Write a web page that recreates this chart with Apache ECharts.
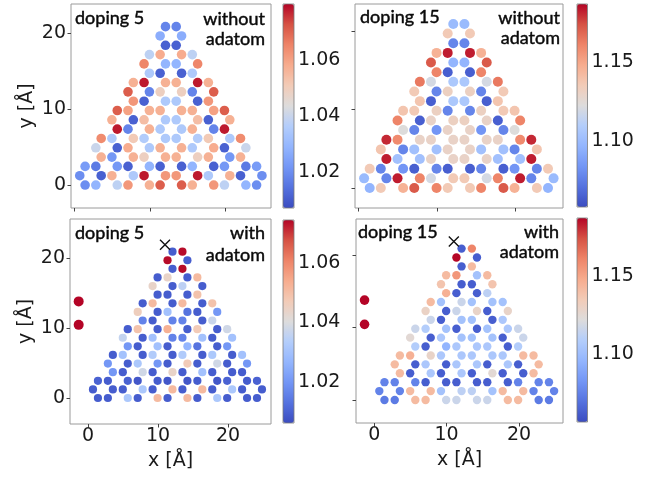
<!DOCTYPE html>
<html><head><meta charset="utf-8">
<script src="https://cdn.jsdelivr.net/npm/echarts@6/dist/echarts.min.js"></script>
<style>html,body{margin:0;padding:0;background:#fff}#c{width:650px;height:479px}</style>
</head><body><div id="c"></div>
<script>
// atom positions of the armchair triangular flake (Å), row by row from the bottom
const ATOM_X = [
 1.42,2.84,5.68,7.10,9.94,11.36,14.20,15.62,18.46,19.88,22.72,24.14,
 0.71,3.55,4.97,7.81,9.23,12.07,13.49,16.33,17.75,20.59,22.01,24.85,
 1.42,2.84,5.68,7.10,9.94,11.36,14.20,15.62,18.46,19.88,22.72,24.14,
 3.55,4.97,7.81,9.23,12.07,13.49,16.33,17.75,20.59,22.01,
 2.84,5.68,7.10,9.94,11.36,14.20,15.62,18.46,19.88,22.72,
 3.55,4.97,7.81,9.23,12.07,13.49,16.33,17.75,20.59,22.01,
 5.68,7.10,9.94,11.36,14.20,15.62,18.46,19.88,
 4.97,7.81,9.23,12.07,13.49,16.33,17.75,20.59,
 5.68,7.10,9.94,11.36,14.20,15.62,18.46,19.88,
 7.81,9.23,12.07,13.49,16.33,17.75,
 7.10,9.94,11.36,14.20,15.62,18.46,
 7.81,9.23,12.07,13.49,16.33,17.75,
 9.94,11.36,14.20,15.62,
 9.23,12.07,13.49,16.33,
 9.94,11.36,14.20,15.62,
 12.07,13.49,
 11.36,14.20,
 12.07,13.49];
const ATOM_Y = [
 0,0,0,0,0,0,0,0,0,0,0,0,
 1.23,1.23,1.23,1.23,1.23,1.23,1.23,1.23,1.23,1.23,1.23,1.23,
 2.46,2.46,2.46,2.46,2.46,2.46,2.46,2.46,2.46,2.46,2.46,2.46,
 3.69,3.69,3.69,3.69,3.69,3.69,3.69,3.69,3.69,3.69,
 4.92,4.92,4.92,4.92,4.92,4.92,4.92,4.92,4.92,4.92,
 6.15,6.15,6.15,6.15,6.15,6.15,6.15,6.15,6.15,6.15,
 7.38,7.38,7.38,7.38,7.38,7.38,7.38,7.38,
 8.61,8.61,8.61,8.61,8.61,8.61,8.61,8.61,
 9.84,9.84,9.84,9.84,9.84,9.84,9.84,9.84,
 11.07,11.07,11.07,11.07,11.07,11.07,
 12.30,12.30,12.30,12.30,12.30,12.30,
 13.53,13.53,13.53,13.53,13.53,13.53,
 14.76,14.76,14.76,14.76,
 15.99,15.99,15.99,15.99,
 17.22,17.22,17.22,17.22,
 18.45,18.45,
 19.68,19.68,
 20.91,20.91];

// doping 5, without adatom
const VAL_D5_NO = [
 1.020,1.029,1.038,1.062,1.057,1.071,1.071,1.057,1.062,1.038,1.029,1.020,
 1.020,1.011,1.057,1.035,1.078,1.062,1.062,1.078,1.035,1.057,1.011,1.020,
 1.023,1.016,1.022,1.011,1.029,1.011,1.011,1.029,1.011,1.022,1.016,1.023,
 1.057,1.022,1.057,1.049,1.057,1.057,1.049,1.057,1.022,1.057,
 1.040,1.011,1.058,1.035,1.057,1.057,1.035,1.058,1.011,1.040,
 1.064,1.035,1.051,1.036,1.035,1.035,1.036,1.051,1.035,1.064,
 1.078,1.018,1.057,1.035,1.035,1.057,1.018,1.078,
 1.057,1.011,1.054,1.035,1.035,1.054,1.011,1.057,
 1.071,1.060,1.057,1.057,1.057,1.057,1.060,1.071,
 1.062,1.011,1.035,1.035,1.011,1.062,
 1.071,1.018,1.049,1.049,1.018,1.071,
 1.057,1.078,1.057,1.057,1.078,1.057,
 1.035,1.011,1.011,1.035,
 1.065,1.029,1.029,1.065,
 1.038,1.058,1.058,1.038,
 1.011,1.011,
 1.027,1.027,
 1.018,1.018];
// doping 15, without adatom
const VAL_D15_NO = [
 1.097,1.136,1.146,1.172,1.161,1.136,1.136,1.161,1.172,1.146,1.136,1.097,
 1.100,1.078,1.183,1.161,1.120,1.136,1.136,1.120,1.161,1.183,1.078,1.100,
 1.136,1.078,1.084,1.065,1.078,1.065,1.065,1.078,1.065,1.084,1.078,1.136,
 1.183,1.103,1.103,1.130,1.130,1.130,1.130,1.103,1.103,1.183,
 1.138,1.078,1.103,1.103,1.130,1.130,1.103,1.103,1.078,1.138,
 1.181,1.159,1.130,1.130,1.130,1.130,1.130,1.130,1.159,1.181,
 1.123,1.078,1.084,1.130,1.130,1.084,1.078,1.123,
 1.161,1.065,1.130,1.132,1.132,1.130,1.065,1.161,
 1.138,1.136,1.132,1.078,1.078,1.132,1.136,1.138,
 1.138,1.065,1.107,1.107,1.065,1.138,
 1.136,1.078,1.132,1.132,1.078,1.136,
 1.164,1.120,1.107,1.107,1.120,1.164,
 1.161,1.065,1.065,1.161,
 1.172,1.097,1.097,1.172,
 1.146,1.183,1.183,1.146,
 1.078,1.078,
 1.136,1.136,
 1.100,1.100];
// doping 5, with adatom
const VAL_D5_AD = [
 1.009,1.009,1.032,1.009,1.051,1.009,1.051,1.009,1.032,1.009,1.009,1.009,
 1.009,1.009,1.009,1.032,1.009,1.051,1.009,1.051,1.009,1.032,1.009,1.009,
 1.010,1.009,1.010,1.008,1.009,1.008,1.008,1.009,1.008,1.010,1.009,1.010,
 1.020,1.009,1.038,1.009,1.044,1.009,1.030,1.009,1.009,1.009,
 1.020,1.009,1.032,1.020,1.009,1.047,1.009,1.038,1.009,1.020,
 1.009,1.030,1.009,1.033,1.009,1.033,1.009,1.032,1.009,1.030,
 1.020,1.009,1.030,1.009,1.027,1.013,1.009,1.020,
 1.036,1.009,1.030,1.016,1.016,1.030,1.009,1.030,
 1.009,1.049,1.009,1.053,1.009,1.047,1.009,1.038,
 1.016,1.009,1.016,1.016,1.009,1.037,
 1.046,1.009,1.030,1.013,1.009,1.020,
 1.009,1.051,1.009,1.051,1.009,1.049,
 1.009,1.009,1.009,1.049,
 1.044,1.009,1.035,1.009,
 1.009,1.044,1.009,1.051,
 1.009,1.074,
 1.074,1.009,
 1.009,1.074];
// doping 15, with adatom
const VAL_D15_AD = [
 1.073,1.073,1.142,1.142,1.116,1.116,1.116,1.116,1.142,1.142,1.073,1.073,
 1.076,1.076,1.142,1.142,1.103,1.112,1.112,1.103,1.142,1.142,1.076,1.076,
 1.076,1.076,1.076,1.063,1.063,1.063,1.063,1.063,1.063,1.076,1.076,1.076,
 1.142,1.063,1.106,1.063,1.106,1.063,1.125,1.063,1.063,1.142,
 1.142,1.063,1.106,1.063,1.106,1.106,1.063,1.106,1.063,1.142,
 1.142,1.146,1.129,1.106,1.106,1.106,1.106,1.106,1.142,1.142,
 1.109,1.063,1.096,1.106,1.106,1.106,1.063,1.109,
 1.125,1.063,1.106,1.103,1.103,1.103,1.063,1.116,
 1.116,1.109,1.103,1.063,1.063,1.103,1.106,1.116,
 1.116,1.063,1.103,1.103,1.063,1.106,
 1.130,1.063,1.116,1.129,1.063,1.129,
 1.142,1.103,1.116,1.103,1.103,1.103,
 1.146,1.063,1.063,1.112,
 1.138,1.063,1.063,1.138,
 1.142,1.155,1.103,1.142,
 1.063,1.142,
 1.187,1.063,
 1.063,1.161];

// extra adatom-related sites drawn at the left, and the adatom mark
const SIDE_X = [-1.33, -1.33];
const SIDE_Y = [13.8, 10.45];
const SIDE_VAL_D5 = [1.0746, 1.0746];
const SIDE_VAL_D15 = [1.1873, 1.1873];
const MARK_X = [11.0];
const MARK_Y = [21.9];

const AXIS_TICKS = [0, 10, 20];
const CB_TICKS_D5 = [1.02, 1.04, 1.06];
const CB_TICKS_D15 = [1.10, 1.15];
const CB_MIN = [1.007, 1.0585, 1.006, 1.0568];
const CB_MAX = [1.080, 1.187, 1.0746, 1.1873];
const PANEL_TEXT = [['doping 5','without'], ['doping 15','without'], ['doping 5','with'], ['doping 15','with']];

const COOLWARM = ['#3b4cc0','#5572df','#7396f5','#93b5fe','#b3cdfb','#dddcdc','#f2cbb7','#f7ac8e','#ee8468','#d65244','#b40426'];

// layout (pixels) and axis windows
const PANELS = [
  {left:71,  top:4,   width:200, height:204, xr:[-0.45,26.05], yr:[-3.03,23.9],  xl:false, yl:true,  sym:9.6},
  {left:355, top:4,   width:208, height:204, xr:[-0.45,26.05], yr:[-2.55,23.45], xl:false, yl:false, sym:10},
  {left:70,  top:219, width:201, height:205, xr:[-2.57,26.14], yr:[-3.71,25.57], xl:true,  yl:true,  sym:8.2},
  {left:356, top:219, width:207, height:204, xr:[-2.51,26.08], yr:[-3.18,25.0],  xl:true,  yl:false, sym:8.4}
];
const CBARS = [
  {left:283, top:4,   width:11,   height:204},
  {left:577, top:4,   width:10.5, height:203},
  {left:283, top:220, width:11,   height:203},
  {left:577, top:218, width:10.5, height:204}
];
const TEXTPOS = [
  {l:75,  r:265, y1:18,    y2:19,    y3:39},
  {l:360, r:560, y1:17.5,  y2:18.5,  y3:38.5},
  {l:75,  r:265, y1:233.5, y2:233.5, y3:255.5},
  {l:358, r:559, y1:232,   y2:232,   y3:252.5}
];

const FONT = 'DejaVu Sans';
const VALS = [VAL_D5_NO, VAL_D15_NO, VAL_D5_AD, VAL_D15_AD];

const grid = [], xAxis = [], yAxis = [], series = [], visualMap = [], graphic = [];
PANELS.forEach((p, i) => {
  grid.push({left:p.left, top:p.top, width:p.width, height:p.height, show:true, borderColor:'#9a9a9a', borderWidth:1, backgroundColor:'transparent', containLabel:false});
  xAxis.push({type:'value', gridIndex:i, min:p.xr[0], max:p.xr[1],
    axisLine:{show:false, onZero:false}, splitLine:{show:false},
    axisTick:{show:true, customValues:AXIS_TICKS, length:3.5, lineStyle:{color:'#444', width:1}},
    axisLabel:{show:p.xl, customValues:AXIS_TICKS, fontFamily:FONT, fontSize:19, color:'#1a1a1a', margin:3},
    name:p.xl ? 'x [Å]' : '', nameLocation:'middle', nameGap:28,
    nameTextStyle:{fontFamily:FONT, fontSize:19, color:'#1a1a1a'}});
  yAxis.push({type:'value', gridIndex:i, min:p.yr[0], max:p.yr[1],
    axisLine:{show:false, onZero:false}, splitLine:{show:false},
    axisTick:{show:true, customValues:AXIS_TICKS, length:3.5, lineStyle:{color:'#444', width:1}},
    axisLabel:{show:p.yl, customValues:AXIS_TICKS, fontFamily:FONT, fontSize:19, color:'#1a1a1a', margin:5},
    name:p.yl ? 'y [Å]' : '', nameLocation:'middle', nameGap:34, nameRotate:90,
    nameTextStyle:{fontFamily:FONT, fontSize:19, color:'#1a1a1a'}});
});
CBARS.forEach((c, i) => {
  const gi = 4 + i;
  grid.push({left:c.left, top:c.top, width:c.width, height:c.height, show:true, z:10, borderColor:'#7a7a7a', borderWidth:0.8, backgroundColor:'transparent'});
  xAxis.push({type:'value', gridIndex:gi, show:false, min:0, max:1});
  const ticks = (i % 2 === 0) ? CB_TICKS_D5 : CB_TICKS_D15;
  yAxis.push({type:'value', gridIndex:gi, position:'right', min:CB_MIN[i], max:CB_MAX[i],
    axisLine:{show:false}, splitLine:{show:false},
    axisTick:{show:true, customValues:ticks, length:3, lineStyle:{color:'#444'}},
    axisLabel:{customValues:ticks, formatter:v => v.toFixed(2), fontFamily:FONT, fontSize:19, color:'#1a1a1a', margin:4}});
});

// atom series
PANELS.forEach((p, i) => {
  series.push({type:'scatter', xAxisIndex:i, yAxisIndex:i, symbol:'circle', symbolSize:p.sym, silent:true,
    itemStyle:{opacity:1},
    data: ATOM_X.map((x, k) => [x, ATOM_Y[k], VALS[i][k]])});
});
// side sites (bottom panels)
series.push({type:'scatter', xAxisIndex:2, yAxisIndex:2, symbolSize:10, silent:true, itemStyle:{opacity:1},
  data: SIDE_X.map((x, k) => [x, SIDE_Y[k], SIDE_VAL_D5[k]])});
series.push({type:'scatter', xAxisIndex:3, yAxisIndex:3, symbolSize:9.6, silent:true, itemStyle:{opacity:1},
  data: SIDE_X.map((x, k) => [x, SIDE_Y[k], SIDE_VAL_D15[k]])});
// adatom mark
[2, 3].forEach(gi => {
  series.push({type:'scatter', xAxisIndex:gi, yAxisIndex:gi, symbol:'path://M0,0L10,10M10,0L0,10', symbolSize:10, silent:true,
    itemStyle:{color:'rgba(0,0,0,0)', borderColor:'#111', borderWidth:1.4, opacity:1},
    data: MARK_X.map((x, k) => [x, MARK_Y[k]])});
});

const vmSeries = [[0], [1], [2, 4], [3, 5]];
CBARS.forEach((c, i) => {
  visualMap.push({type:'continuous', seriesIndex:vmSeries[i], dimension:2, min:CB_MIN[i], max:CB_MAX[i],
    inRange:{color:COOLWARM}, left:c.left, top:c.top, itemWidth:c.width, itemHeight:c.height,
    calculable:false, hoverLink:false, padding:0, text:null, showLabel:false, orient:'vertical'});
});

TEXTPOS.forEach((t, i) => {
  const st = {fontFamily:'Lato', fontSize:18, fontWeight:'normal', fill:'#0a0a0a', stroke:'#0a0a0a', lineWidth:0.45};
  graphic.push({type:'text', x:t.l, y:t.y1, style:Object.assign({text:PANEL_TEXT[i][0], align:'left', verticalAlign:'middle'}, st)});
  graphic.push({type:'text', x:t.r, y:t.y2, style:Object.assign({text:PANEL_TEXT[i][1], align:'right', verticalAlign:'middle'}, st)});
  graphic.push({type:'text', x:t.r, y:t.y3, style:Object.assign({text:'adatom', align:'right', verticalAlign:'middle'}, st)});
});

const chart = echarts.init(document.getElementById('c'), null, {renderer:'canvas'});
chart.setOption({animation:false, backgroundColor:'#fff', textStyle:{fontFamily:FONT},
  grid, xAxis, yAxis, series, visualMap, graphic});
</script></body></html>
